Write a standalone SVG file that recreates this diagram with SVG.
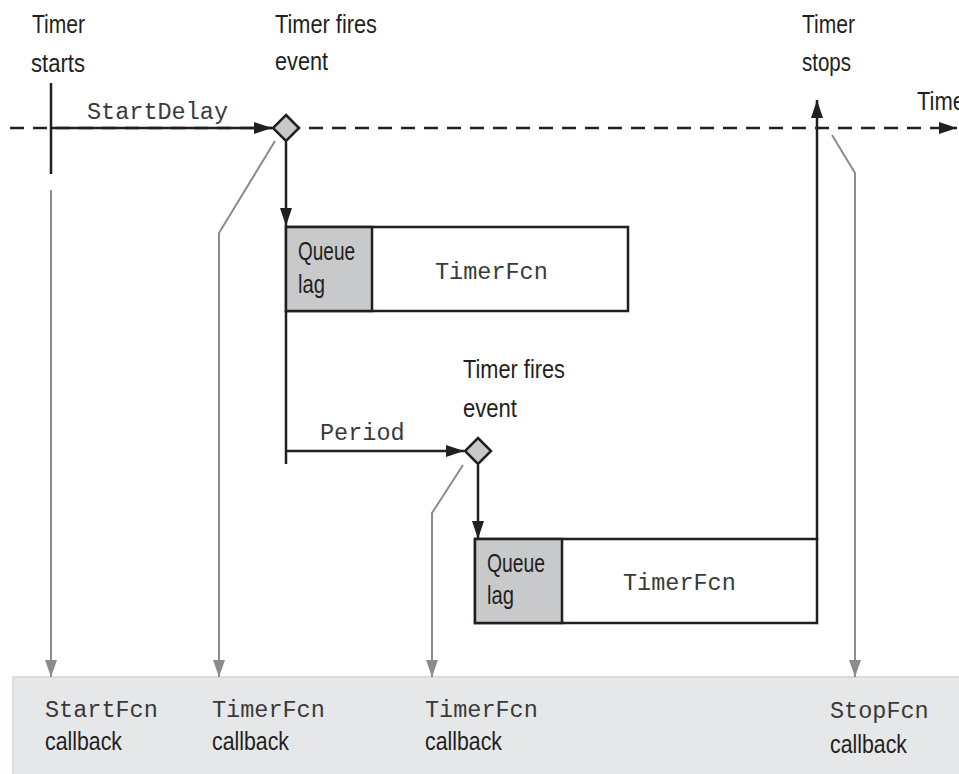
<svg xmlns="http://www.w3.org/2000/svg" width="959" height="774" viewBox="0 0 959 774">
<style>
.lbl{font-family:"Liberation Sans",Arial,sans-serif;font-size:26px;fill:#231f20}
.mono{font-family:"Liberation Mono","DejaVu Sans Mono",monospace;font-size:23.5px;fill:#3a3a3a}
.dk{stroke:#231f20;stroke-width:2.5;fill:none}
.gr{stroke:#8c8c8c;stroke-width:2;fill:none}
.box{fill:#fff;stroke:#231f20;stroke-width:2.5}
.q{fill:#c8c9cb;stroke:#231f20;stroke-width:2.5}
.dia{fill:#c8c9cb;stroke:#231f20;stroke-width:2.5}
</style>
<defs>
<marker id="ad" markerUnits="userSpaceOnUse" markerWidth="18" markerHeight="12" refX="18" refY="6" orient="auto"><path d="M0,0 L18,6 L0,12 z" fill="#231f20"/></marker>
<marker id="ag" markerUnits="userSpaceOnUse" markerWidth="17" markerHeight="12" refX="17" refY="6" orient="auto"><path d="M0,0 L17,6 L0,12 z" fill="#8c8c8c"/></marker>
</defs>
<rect id="callbacks" x="13" y="677" width="950" height="100" fill="#e6e7e8" stroke="#d2d3d4" stroke-width="1.5"/>
<g id="connectors">
<line class="dk" x1="10" y1="128" x2="957" y2="128" stroke-dasharray="14 9" marker-end="url(#ad)"/>
<line class="dk" x1="51" y1="83" x2="51" y2="174"/>
<line class="dk" x1="51" y1="128" x2="272" y2="128" marker-end="url(#ad)"/>
<line class="gr" x1="51" y1="190" x2="51" y2="677" marker-end="url(#ag)"/>
<line class="dk" x1="286" y1="142" x2="286" y2="226" marker-end="url(#ad)"/>
<polyline class="gr" points="275,141 219,233 219,677" marker-end="url(#ag)"/>
<line class="dk" x1="286" y1="311" x2="286" y2="464"/>
<line class="dk" x1="286" y1="451" x2="464" y2="451" marker-end="url(#ad)"/>
<line class="dk" x1="478" y1="465" x2="478" y2="539" marker-end="url(#ad)"/>
<polyline class="gr" points="463,465 432,513 432,677" marker-end="url(#ag)"/>
<line class="dk" x1="817" y1="540" x2="817" y2="100" marker-end="url(#ad)"/>
<polyline class="gr" points="832,135 855,173 855,677" marker-end="url(#ag)"/>
</g>
<g id="timer-starts"><text class="lbl" x="32" y="33" textLength="53" lengthAdjust="spacingAndGlyphs">Timer</text><text class="lbl" x="31" y="72" textLength="54" lengthAdjust="spacingAndGlyphs">starts</text></g>
<g id="startdelay"><text class="mono" x="87" y="119">StartDelay</text></g>
<g id="fire1">
<text class="lbl" x="275" y="33" textLength="102" lengthAdjust="spacingAndGlyphs">Timer fires</text><text class="lbl" x="275" y="70" textLength="53" lengthAdjust="spacingAndGlyphs">event</text>
<polygon class="dia" points="286,115 299,128 286,141 273,128"/>
</g>
<g id="box1">
<rect class="box" x="286" y="227" width="342" height="84"/>
<rect class="q" x="286" y="227" width="86" height="84"/>
<text class="lbl" x="298" y="260" textLength="57" lengthAdjust="spacingAndGlyphs">Queue</text><text class="lbl" x="298" y="293" textLength="27" lengthAdjust="spacingAndGlyphs">lag</text>
<text class="mono" x="435" y="279">TimerFcn</text>
</g>
<g id="period"><text class="mono" x="320" y="440">Period</text></g>
<g id="fire2">
<text class="lbl" x="463" y="378" textLength="102" lengthAdjust="spacingAndGlyphs">Timer fires</text><text class="lbl" x="463" y="417" textLength="54" lengthAdjust="spacingAndGlyphs">event</text>
<polygon class="dia" points="478,438 491,451 478,464 465,451"/>
</g>
<g id="box2">
<rect class="box" x="475" y="539" width="342" height="84"/>
<rect class="q" x="475" y="539" width="87" height="84"/>
<text class="lbl" x="487" y="572" textLength="58" lengthAdjust="spacingAndGlyphs">Queue</text><text class="lbl" x="487" y="604" textLength="27" lengthAdjust="spacingAndGlyphs">lag</text>
<text class="mono" x="623" y="590">TimerFcn</text>
</g>
<g id="timer-stops"><text class="lbl" x="802" y="33" textLength="53" lengthAdjust="spacingAndGlyphs">Timer</text><text class="lbl" x="802" y="71" textLength="49" lengthAdjust="spacingAndGlyphs">stops</text></g>
<g id="time"><text class="lbl" x="917" y="110" textLength="48" lengthAdjust="spacingAndGlyphs">Time</text></g>
<g id="cb-start"><text class="mono" x="45" y="717">StartFcn</text><text class="lbl" x="45" y="750" textLength="77" lengthAdjust="spacingAndGlyphs">callback</text></g>
<g id="cb-timer1"><text class="mono" x="212" y="717">TimerFcn</text><text class="lbl" x="212" y="750" textLength="77" lengthAdjust="spacingAndGlyphs">callback</text></g>
<g id="cb-timer2"><text class="mono" x="425" y="717">TimerFcn</text><text class="lbl" x="425" y="750" textLength="77" lengthAdjust="spacingAndGlyphs">callback</text></g>
<g id="cb-stop"><text class="mono" x="830" y="718">StopFcn</text><text class="lbl" x="830" y="753" textLength="77" lengthAdjust="spacingAndGlyphs">callback</text></g>
</svg>
